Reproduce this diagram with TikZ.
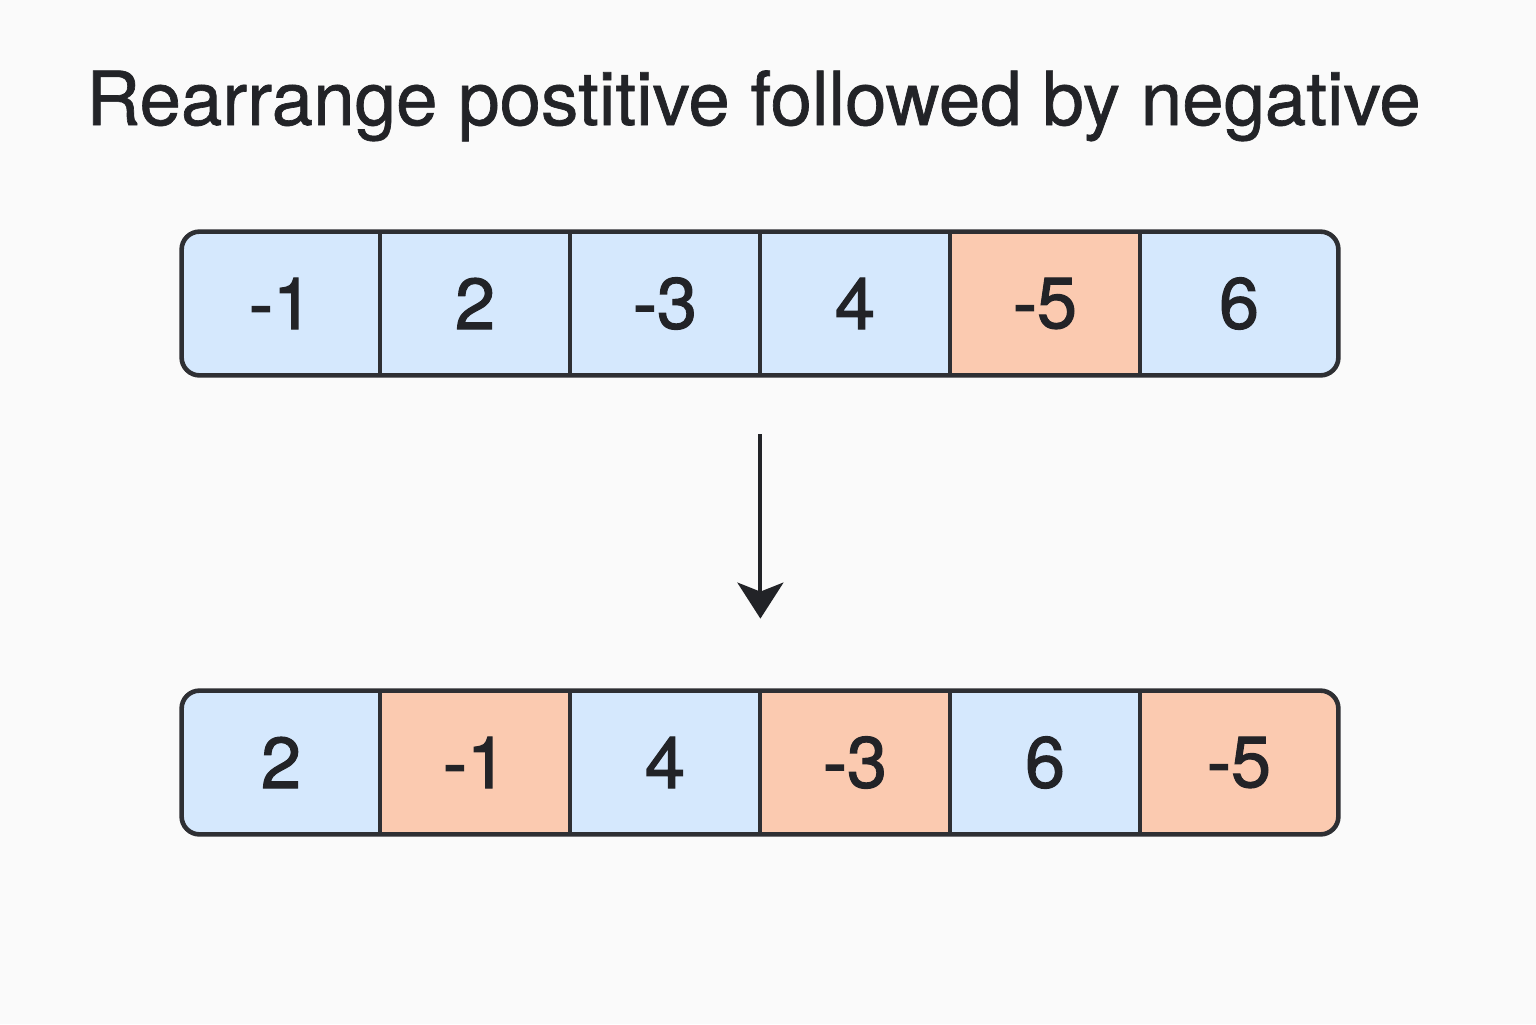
\documentclass[tikz,border=0pt]{standalone}
\usepackage{fontspec}
\setmainfont{TeX Gyre Heros}[FakeBold=0.9]
\newfontfamily\digitfont{TeX Gyre Heros}[FakeBold=1.6]
\usetikzlibrary{arrows.meta}
\definecolor{bg}{HTML}{FAFAFA}
\definecolor{cblue}{HTML}{D5E8FD}
\definecolor{csalmon}{HTML}{FBCAB0}
\definecolor{edge}{HTML}{2E2F33}
\definecolor{ink}{HTML}{222327}
\tikzset{
  cellbox/.style={rectangle, inner sep=0pt, minimum height=71.5pt, text=ink,
    font=\digitfont\fontsize{36}{40}\selectfont},
  widecell/.style={cellbox, minimum width=99pt},
  narrowcell/.style={cellbox, minimum width=95pt},
  poscell/.style={fill=cblue},
  negcell/.style={fill=csalmon},
  divider/.style={draw=edge, line width=2pt},
  frame/.style={draw=edge, line width=2.3pt, rounded corners=9pt},
}
\begin{document}
\begin{tikzpicture}[x=0.5pt,y=-0.5pt]
\fill[bg] (0,0) rectangle (1536,1024);
\useasboundingbox (0,0) rectangle (1536,1024);
\node[anchor=base west, text=ink, inner sep=0pt] (title) at (86,125)
  {\resizebox{667pt}{!}{Rearrange postitive followed by negative}};
% top row
\begin{scope}
\clip[rounded corners=9pt] (182,232) rectangle (1338,375);
\node[widecell,poscell]   (t1) at (281,303.5) {-1};
\node[narrowcell,poscell] (t2) at (475,303.5) {2};
\node[narrowcell,poscell] (t3) at (665,303.5) {-3};
\node[narrowcell,poscell] (t4) at (855,303.5) {4};
\node[narrowcell,negcell] (t5) at (1045,303.5) {-5};
\node[widecell,poscell]   (t6) at (1239,303.5) {6};
\end{scope}
\foreach \i in {1,...,5} \draw[divider] (t\i.north east) -- (t\i.south east);
\draw[frame] (t1.north west) rectangle (t6.south east);
% bottom row
\begin{scope}
\clip[rounded corners=9pt] (182,691) rectangle (1338,834);
\node[widecell,poscell]   (b1) at (281,762.5) {2};
\node[narrowcell,negcell] (b2) at (475,762.5) {-1};
\node[narrowcell,poscell] (b3) at (665,762.5) {4};
\node[narrowcell,negcell] (b4) at (855,762.5) {-3};
\node[narrowcell,poscell] (b5) at (1045,762.5) {6};
\node[widecell,negcell]   (b6) at (1239,762.5) {-5};
\end{scope}
\foreach \i in {1,...,5} \draw[divider] (b\i.north east) -- (b\i.south east);
\draw[frame] (b1.north west) rectangle (b6.south east);
% arrow
\draw[draw=ink, line width=2pt, shorten <=29.5pt, shorten >=36pt,
  -{Stealth[length=18pt, width=23pt, inset=4.5pt]}]
  (t3.south east) -- (b3.north east);
\end{tikzpicture}
\end{document}
